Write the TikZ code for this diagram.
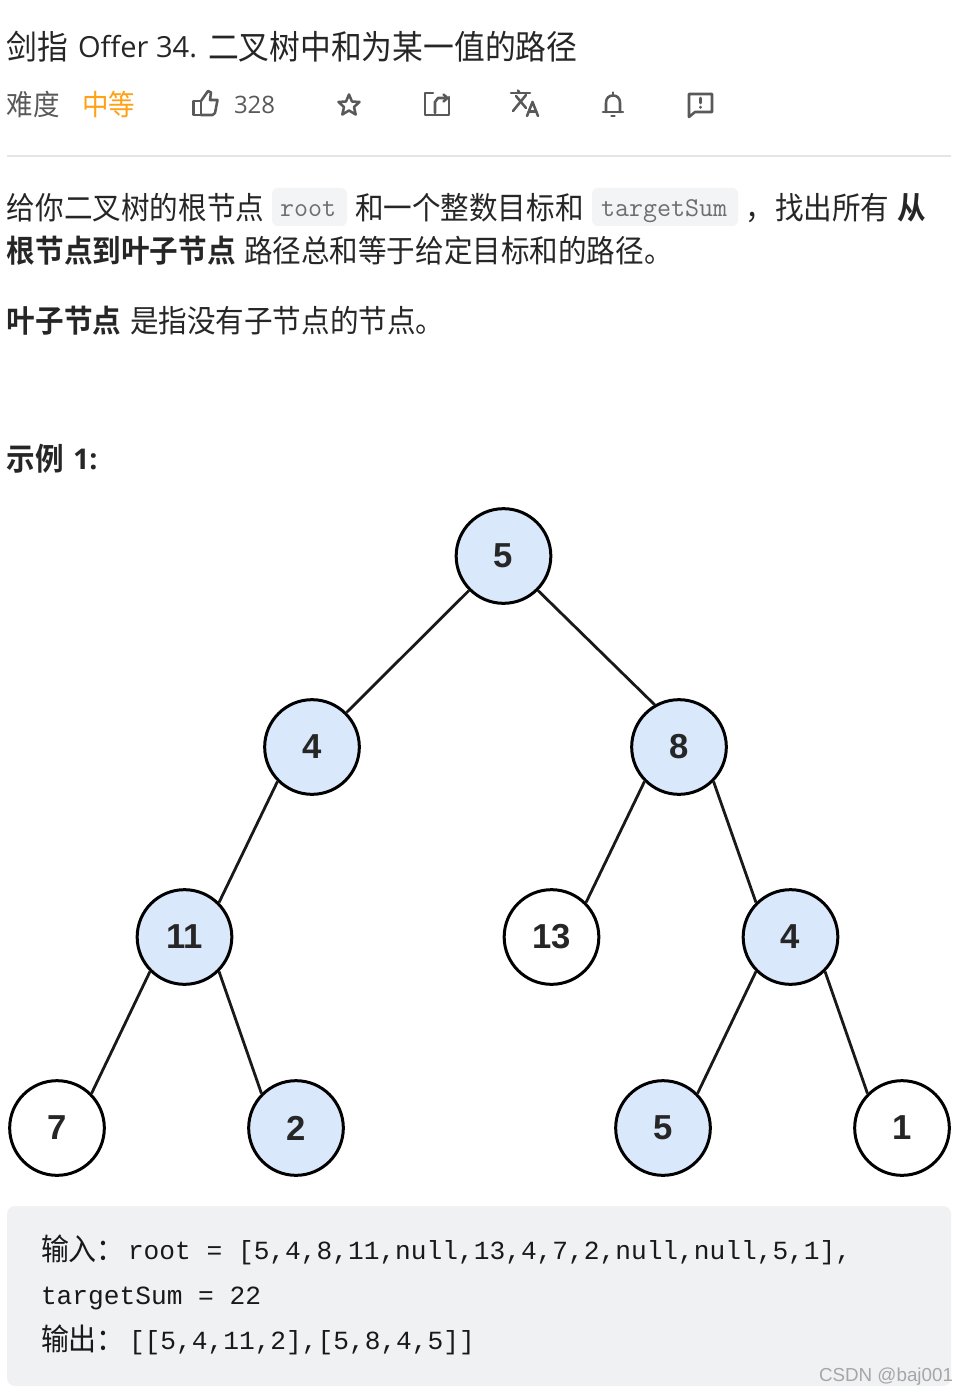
\documentclass[tikz,border=0pt]{standalone}
\usepackage{fontspec}
\setmainfont{Open Sans}
\newfontfamily\cjkr{Noto Sans CJK SC}[FakeStretch=0.92]
\newfontfamily\cjkb{Noto Sans CJK SC Bold}[FakeStretch=0.92]
\newfontfamily\nodef{Liberation Sans}
\newfontfamily\codef{Liberation Mono}
\newcommand{\szt}{\fontsize{23.3}{28}\selectfont}
\newcommand{\dgt}[1]{\raisebox{-0.75pt}{#1}}
\definecolor{ink}{HTML}{262626}
\definecolor{soft}{HTML}{595959}
\definecolor{amber}{HTML}{FFA116}
\definecolor{nodeblue}{HTML}{DAE8FC}
\definecolor{pill}{HTML}{F3F4F5}
\definecolor{codebg}{HTML}{F0F1F3}
\definecolor{inl}{HTML}{6B6F73}
\tikzset{
  x=0.75pt,y=-0.75pt,
  txt/.style={anchor=base west,inner sep=0pt,outer sep=0pt,text=ink,font=\cjkr\szt},
  bold/.style={txt,font=\cjkb\szt},
  inlinecode/.style={txt,text=inl,font=\ttfamily\fontsize{20.4}{24}\selectfont},
  codetxt/.style={txt,text=black!90,font=\codef\fontsize{19.65}{24}\selectfont},
  codecjk/.style={txt,text=black!90,font=\cjkr\fontsize{22.8}{28}\selectfont},
  tnode/.style={circle,draw=black,line width=2.25pt,minimum size=71pt,inner sep=0pt,
     text=ink,font=\nodef\bfseries\fontsize{26}{29}\selectfont},
  blue/.style={tnode,fill=nodeblue},
  plain/.style={tnode,fill=white},
  edge/.style={draw=black!90,line width=2.1pt},
  icon/.style={draw=soft,line width=1.9pt,line join=round,line cap=round},
}
\begin{document}
\begin{tikzpicture}
\useasboundingbox (0,0) rectangle (968,1394);
\fill[white] (0,0) rectangle (968,1394);
% header
\node[txt,font=\cjkr\fontsize{25.1}{30}\selectfont] (t1) at (7,59.5) {剑指};
\node[txt,font=\fontsize{21.8}{26}\selectfont] (t2) at (78,58) {Offer 34.};
\node[txt,font=\cjkr\fontsize{25.1}{30}\selectfont] (t3) at (208,59.5) {二叉树中和为某一值的路径};
\node[txt,text=soft,font=\cjkr\fontsize{21.6}{26}\selectfont] (d1) at (7,115.5) {难度};
\node[txt,text=amber,font=\cjkr\fontsize{21.6}{26}\selectfont] (d2) at (82,115.5) {中等};
\node[txt,text=soft,font=\fontsize{18}{22}\selectfont] (cnt) at (234,114) {328};
% thumb
\draw[icon] (193.5,101) rectangle (201,115);
\draw[icon] (201,101) -- (208,91) -- (211,92.5) -- (210,100) -- (217.5,100) -- (215,113) -- (212.5,115) -- (201,115);
% star
\draw[icon] (349,94.5) -- (352,101.5) -- (359.5,102) -- (354,107) -- (355.7,114.5) -- (349,110.5) -- (342.3,114.5) -- (344,107) -- (338.5,102) -- (346,101.5) -- cycle;
% share
\draw[icon] (433,93) -- (425,93) -- (425,115) -- (449,115) -- (449,97);
\draw[icon] (435,113) -- (435,102) -- (438,98) -- (447,98);
\draw[icon] (443.5,94.5) -- (447.5,98) -- (443.5,101.5);
% translate
\draw[icon] (511,93) -- (530,93);
\draw[icon] (518,90.5) -- (519.5,93);
\draw[icon] (526,95) -- (513,111);
\draw[icon] (516,96) -- (526,108);
\draw[icon] (527,116) -- (532.5,102) -- (538,116);
\draw[icon] (529,111.5) -- (536,111.5);
% bell
\draw[icon] (603,112) -- (623,112);
\draw[icon] (606,112) -- (606,103) .. controls (606,98) and (609,95.5) .. (613,95.5) .. controls (617,95.5) and (620,98) .. (620,103) -- (620,112);
\draw[icon] (613,92.5) -- (613,94);
\draw[icon] (611.5,116) -- (614.5,116);
% feedback
\draw[icon] (689,94) -- (712,94) -- (712,112) -- (695,112) -- (689,117) -- cycle;
\draw[icon] (700.5,98) -- (700.5,103);
\draw[icon] (700.5,107) -- (700.5,107.5);
\draw[draw=black!10,line width=1.5pt] (7,156) -- (951,156);
% body
\fill[pill,rounded corners=4.5pt] (272,188) rectangle (347,226);
\fill[pill,rounded corners=4.5pt] (592,188) rectangle (738,226);
\node[txt] (b1) at (7,219.5) {给你二叉树的根节点};
\node[inlinecode] (b2) at (280,217) {root};
\node[txt] (b3) at (355,219.5) {和一个整数目标和};
\node[inlinecode] (b4) at (601,217) {targetSum};
\node[txt] (b5) at (745,219.5) {，};
\node[txt] (b6) at (775,219.5) {找出所有};
\node[bold] (b7) at (897,219.5) {从};
\node[bold] (b8) at (7,262.5) {根节点到叶子节点};
\node[txt] (b9) at (244,262.5) {路径总和等于给定目标和的路径。};
\node[bold] (c1) at (7,332) {叶子节点};
\node[txt] (c2) at (130,332) {是指没有子节点的节点。};
\node[bold] (e1) at (7,470) {示例};
\node[txt,font=\bfseries\fontsize{21.4}{26}\selectfont] (e2) at (73,469) {1:};
% tree
\node[blue] (r) at (503.5,556) {\dgt{5}};
\node[blue] (a) at (312,747) {\dgt{4}};
\node[blue] (b) at (679,747) {\dgt{8}};
\node[blue] (c) at (184.5,937) {\dgt{11}};
\node[plain] (d) at (551.5,937) {\dgt{13}};
\node[blue] (f) at (790.5,937) {\dgt{4}};
\node[plain] (g) at (57,1128) {\dgt{7}};
\node[blue] (h) at (296,1128) {\dgt{2}};
\node[blue] (i) at (663,1128) {\dgt{5}};
\node[plain] (j) at (902,1128) {\dgt{1}};
\draw[edge] (r.225) -- (a.45);
\draw[edge] (r.-45) -- (b.120);
\draw[edge] (a.225) -- (c.45);
\draw[edge] (b.225) -- (d.45);
\draw[edge] (b.-45) -- (f.135);
\draw[edge] (c.225) -- (g.45);
\draw[edge] (c.-45) -- (h.135);
\draw[edge] (f.225) -- (i.45);
\draw[edge] (f.-45) -- (j.135);
% code
\fill[codebg,rounded corners=6pt] (7,1206) rectangle (951,1386);
\node[codecjk] (k1) at (41,1260.5) {输入：};
\node[codetxt] (k2) at (128,1259) {root = [5,4,8,11,null,13,4,7,2,null,null,5,1],};
\node[codetxt] (k3) at (41,1304) {targetSum = 22};
\node[codecjk] (k4) at (41,1350.5) {输出：};
\node[codetxt] (k5) at (129,1349) {[[5,4,11,2],[5,8,4,5]]};
\node[txt,text=black!35,font=\nodef\fontsize{14.1}{18}\selectfont] (w) at (819,1381) {CSDN @baj001};
\end{tikzpicture}
\end{document}
